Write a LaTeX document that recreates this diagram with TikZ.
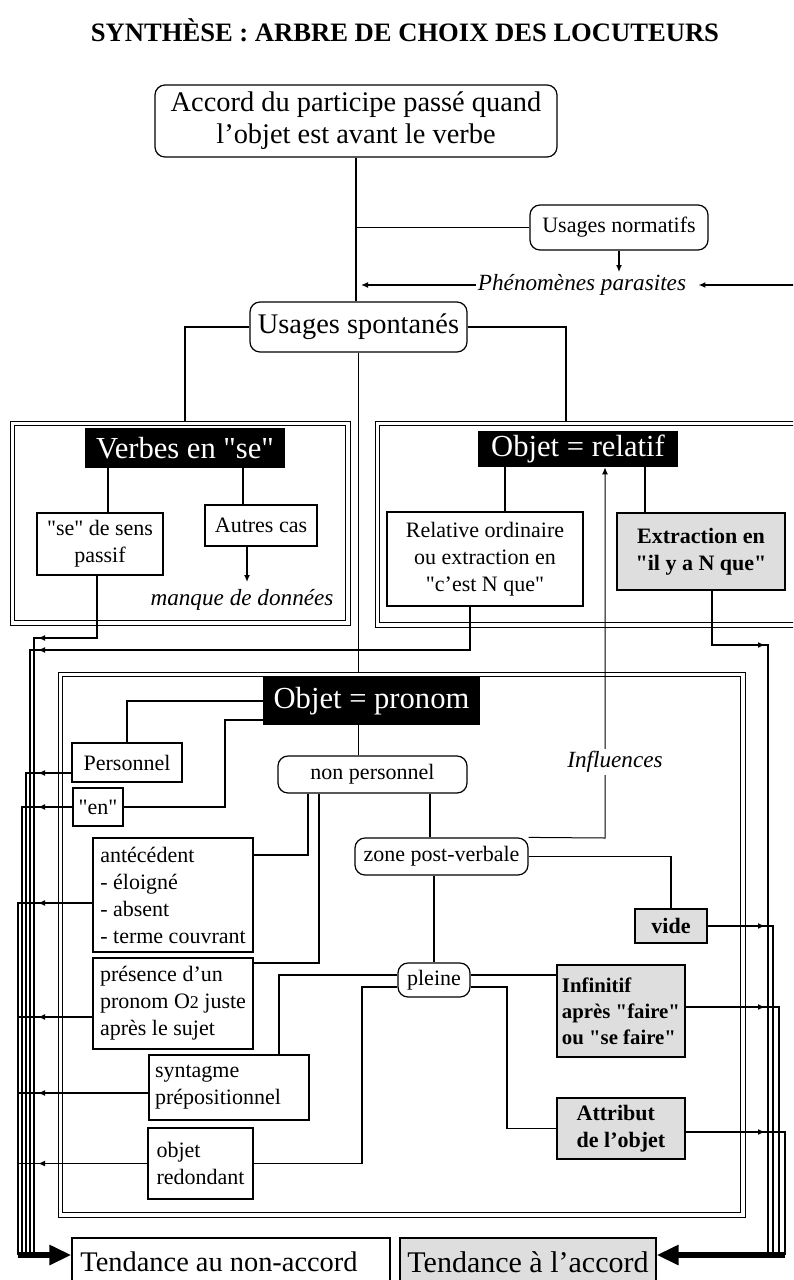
\documentclass[tikz,border=0pt]{standalone}
\usepackage{fontspec}
\setmainfont{Liberation Serif}
\newfontfamily\qfont{Liberation Serif}
\usetikzlibrary{arrows.meta}
\newcommand\szA{\fontsize{11}{13.5}\selectfont}
\newcommand\szB{\fontsize{14.2}{16}\selectfont}
\newcommand\szC{\fontsize{15.3}{18}\selectfont}
\newcommand\dqt{{\qfont"}}
\begin{document}
\begin{tikzpicture}[x=0.5pt,y=-0.5pt,
  conn/.style={line width=0.9pt},
  arr/.style={line width=0.9pt,-{Latex[length=3.5pt,width=3pt]}},
  thinarr/.style={line width=0.5pt,-{Latex[length=3.5pt,width=3pt]}},
  big/.style={line width=3pt,-{Triangle[length=11pt,width=9.5pt]}},
  sbox/.style={draw,line width=0.6pt,inner sep=0pt,align=center,font=\szA},
  rbox/.style={sbox,rounded corners=5pt},
  gbox/.style={sbox,fill=black!13,font=\szA\bfseries},
  hdr/.style={fill=black,text=white,inner sep=0pt,font=\szC},
  frame/.style={draw,line width=0.5pt,inner sep=0pt},
  inframe/.style={draw,line width=0.5pt},
]
\useasboundingbox (0,0) rectangle (793,1280);
\clip (0,0) rectangle (793,1280);

% title
\node[font=\fontsize{13.3}{16}\selectfont\bfseries] (title) at (405,30) {SYNTHÈSE : ARBRE DE CHOIX DES LOCUTEURS};

% top part
\node[rbox,font=\szB,minimum width=201pt,minimum height=36pt] (top) at (356,121) {Accord du participe passé quand\\l'objet est avant le verbe};
\node[rbox,minimum width=89pt,minimum height=22.5pt] (norm) at (619,227.5) {Usages normatifs};
\node[font=\fontsize{11.6}{13}\selectfont\itshape,inner sep=1pt] (para) at (582,285) {Phénomènes parasites};
\node[rbox,font=\szB,minimum width=108.5pt,minimum height=25pt] (spont) at (358.5,327) {Usages spontanés};

% frames (outer line as node, inner line drawn inside)
\node[frame,minimum width=170pt,minimum height=102pt] (fverbes) at (180,523) {};
\node[frame,minimum width=216pt,minimum height=103pt] (frel) at (591,524) {};
\node[frame,minimum width=343.5pt,minimum height=272.5pt] (fpron) at (401.5,944.5) {};
\draw[inframe] ([xshift=2.3pt,yshift=-2.3pt]fverbes.north west) rectangle ([xshift=-2.3pt,yshift=2.3pt]fverbes.south east);
\draw[inframe] ([xshift=2.3pt,yshift=-2.3pt]frel.north west) rectangle ([xshift=-2.3pt,yshift=2.3pt]frel.south east);
\draw[inframe] ([xshift=2.5pt,yshift=-2.5pt]fpron.north west) rectangle ([xshift=-2.5pt,yshift=2.5pt]fpron.south east);

% headers
\node[hdr,minimum width=100pt,minimum height=20pt] (verbes) at (185,448) {Verbes en \dqt se\dqt};
\node[hdr,minimum width=100pt,minimum height=18pt] (rel) at (578,449) {Objet = relatif};
\node[hdr,minimum width=108.5pt,minimum height=24pt] (pronom) at (371.5,701) {Objet = pronom};

% verbes en se
\node[sbox,minimum width=63pt,minimum height=31pt] (sepassif) at (100,544) {\dqt se\dqt{} de sens\\passif};
\node[sbox,minimum width=56pt,minimum height=20.5pt] (autres) at (261,525.5) {Autres cas};
\node[font=\fontsize{11.6}{13}\selectfont\itshape,inner sep=1pt] (manque) at (242,600) {manque de données};

% objet = relatif
\node[sbox,minimum width=98pt,minimum height=47pt] (relative) at (485,559) {Relative ordinaire\\ou extraction en\\\dqt c'est N que\dqt};
\node[gbox,minimum width=84pt,minimum height=38.5pt] (extraction) at (701,551.5) {Extraction en\\\dqt il y a N que\dqt};

% objet = pronom
\node[sbox,minimum width=55pt,minimum height=19.5pt] (personnel) at (127,762.5) {Personnel};
\node[sbox,minimum width=25pt,minimum height=19pt] (en) at (98,807) {\dqt en\dqt};
\node[rbox,minimum width=94.5pt,minimum height=18.5pt] (nonpers) at (372.5,774.5) {non personnel};
\node[sbox,align=left,minimum width=80pt,minimum height=57pt] (antecedent) at (173,895) {antécédent\\- éloigné\\- absent\\- terme couvrant};
\node[sbox,align=left,minimum width=80pt,minimum height=45.5pt] (presence) at (173,1003.5) {présence d'un\\pronom O{\fontsize{9}{9}\selectfont 2} juste\\après le sujet};
\node[sbox,align=left,text width=74pt,inner xsep=3pt,minimum width=80pt,minimum height=32.5pt] (syntagme) at (229,1087.5) {syntagme\\prépositionnel};
\node[sbox,align=left,minimum width=52.5pt,minimum height=35.5pt] (objet) at (200.5,1163.5) {objet\\redondant};
\node[rbox,minimum width=86.5pt,minimum height=18.5pt] (zpv) at (441.5,856.5) {zone post-verbale};
\node[gbox,minimum width=36pt,minimum height=17pt] (vide) at (671,926) {vide};
\node[rbox,minimum width=36pt,minimum height=17pt] (pleine) at (434,980) {pleine};
\node[gbox,font=\fontsize{10.4}{13}\selectfont\bfseries,align=left,minimum width=64pt,minimum height=46pt] (infinitif) at (621,1011) {Infinitif\\après \dqt faire\dqt\\ou \dqt se faire\dqt};
\node[gbox,align=left,minimum width=64pt,minimum height=30.5pt] (attribut) at (621,1128.5) {Attribut\\de l'objet};

% outcomes
\node[sbox,font=\szB,minimum width=159pt,minimum height=24pt] (nonaccord) at (231,1262) {Tendance au non-accord\hspace*{12pt}};
\node[gbox,font=\fontsize{15}{18}\selectfont,minimum width=128pt,minimum height=24pt] (accord) at (528,1262) {Tendance à l'accord};

% helper coordinates
\coordinate (seTop) at ([xshift=4pt]sepassif.north);
\coordinate (auTop) at ([xshift=-9pt]autres.north);
\coordinate (auBot) at ([xshift=-7pt]autres.south);
\coordinate (manqueTop) at (0,582);
\coordinate (relTop) at ([xshift=10pt]relative.north);
\coordinate (exTop) at ([xshift=-28pt]extraction.north);
\coordinate (seBot) at ([xshift=-1.5pt]sepassif.south);
\coordinate (relBot) at ([xshift=-7.5pt]relative.south);
\coordinate (exBot) at ([xshift=5.5pt]extraction.south);
\coordinate (relFrameTop) at (566,421);
\coordinate (paraR) at (795,285);
\coordinate (L1) at (34,1255);
\coordinate (L2) at (30,1255);
\coordinate (L3) at (26,1255);
\coordinate (L4) at (22,1255);
\coordinate (L5) at (18,1255);
\coordinate (seY) at (34,638);
\coordinate (relY) at (30,650);
\coordinate (persY) at (26,773);
\coordinate (enY) at (22,807);
\coordinate (antY) at (18,903);
\coordinate (presY) at (18,1017);
\coordinate (synY) at (18,1093);
\coordinate (objY) at (18,1163.5);
\coordinate (tipL) at (38,0);
\coordinate (R1) at (768,1255);
\coordinate (R2) at (773,1255);
\coordinate (R3) at (779,1255);
\coordinate (R4) at (785,1255);
\coordinate (exY) at (768,645);
\coordinate (vY) at (773,926);
\coordinate (infY) at (779,1007);
\coordinate (attY) at (785,1132);
\coordinate (tipR) at (765,0);
\coordinate (enBend) at (225,0);
\coordinate (enOut) at ([yshift=-9.5pt]pronom.west);
\coordinate (np1) at (308,855);
\coordinate (np2) at (319,963);
\coordinate (zx) at (430,0);
\coordinate (infl) at (605,838);
\coordinate (pl1) at (279,975);
\coordinate (pl2) at (362,987);
\coordinate (pl4) at (507,987);

% top connectors
\draw[conn] (top.south) -- (top.south |- spont.north);
\draw[conn] (top.south |- norm.west) -- (norm.west);
\draw[arr] (norm.south) -- (norm.south |- para.north);
\draw[arr,shorten >=2.5pt] (para.west) -- (para.west -| top.south);
\draw[arr,shorten >=5pt] (paraR) -- (para.east);
\draw[conn] (spont.west) -| (verbes.north |- fverbes.north);
\draw[conn] (spont.east) -| (relFrameTop);
\draw[conn] (spont.south) -- (spont.south |- fpron.north);

% verbes en se
\draw[conn] (seTop) -- (seTop |- verbes.south);
\draw[conn] (auTop) -- (auTop |- verbes.south);
\draw[arr] (auBot) -- (auBot |- manqueTop);

% objet = relatif
\draw[conn] (relTop) -- (relTop |- rel.south);
\draw[conn] (exTop) -- (exTop |- rel.south);

% objet = pronom
\draw[conn] (pronom.west) -| (personnel.north);
\draw[conn] (enOut) -| (enBend |- en.east) -- (en.east);
\draw[conn] (spont.south |- pronom.south) -- (spont.south |- nonpers.north);
\draw[conn] (nonpers.south -| np1) -- (np1) -- (np1 -| antecedent.east);
\draw[conn] (nonpers.south -| np2) -- (np2) -- (np2 -| presence.east);
\draw[conn] (nonpers.south -| zx) -- (zpv.north -| zx);
\draw[conn] (zpv.south -| pleine.north) -- (pleine.north);
\draw[conn] (zpv.east) -| (vide.north);
\draw[conn] (pleine.west |- pl1) -- (pl1) -- (pl1 |- syntagme.north);
\draw[conn] (pleine.west |- pl2) -- (pl2) |- (objet.east);
\draw[conn] (pleine.east |- pl1) -- (infinitif.west |- pl1);
\draw[conn] (pleine.east |- pl4) -- (pl4) |- (attribut.west);

% influences
\draw[thinarr] (zpv.north east) -- (infl) -- (infl |- rel.south);
\node[font=\fontsize{11.6}{13}\selectfont\itshape,fill=white,inner sep=1pt] (influences) at (615,762) {Influences};

% left bundle
\draw[conn] (seBot) |- (seY) -- (L1);
\draw[arr] (seBot |- seY) -- (seY -| tipL);
\draw[conn] (relBot) |- (relY) -- (L2);
\draw[arr] (relBot |- relY) -- (relY -| tipL);
\draw[conn] (personnel.west |- persY) -- (persY) -- (L3);
\draw[arr] (personnel.west |- persY) -- (persY -| tipL);
\draw[conn] (en.west) -- (enY) -- (L4);
\draw[arr] (en.west) -- (enY -| tipL);
\draw[conn] (antecedent.west |- antY) -- (antY) -- (L5);
\draw[arr] (antecedent.west |- antY) -- (antY -| tipL);
\draw[conn] (presence.west |- presY) -- (presY);
\draw[arr] (presence.west |- presY) -- (presY -| tipL);
\draw[conn] (syntagme.west |- synY) -- (synY);
\draw[arr] (syntagme.west |- synY) -- (synY -| tipL);
\draw[conn] (objet.west |- objY) -- (objY);
\draw[arr] (objet.west |- objY) -- (objY -| tipL);
\draw[big] (L5) -- (L5 -| nonaccord.west);

% right bundle
\draw[conn] (exBot) |- (exY) -- (R1);
\draw[arr] (exBot |- exY) -- (exY -| tipR);
\draw[conn] (vide.east) -- (vY) -- (R2);
\draw[arr] (vide.east) -- (vY -| tipR);
\draw[conn] (infinitif.east |- infY) -- (infY) -- (R3);
\draw[arr] (infinitif.east |- infY) -- (infY -| tipR);
\draw[conn] (attribut.east |- attY) -- (attY) -- (R4);
\draw[arr] (attribut.east |- attY) -- (attY -| tipR);
\draw[big] (R4) -- (R4 -| accord.east);
\end{tikzpicture}
\end{document}
